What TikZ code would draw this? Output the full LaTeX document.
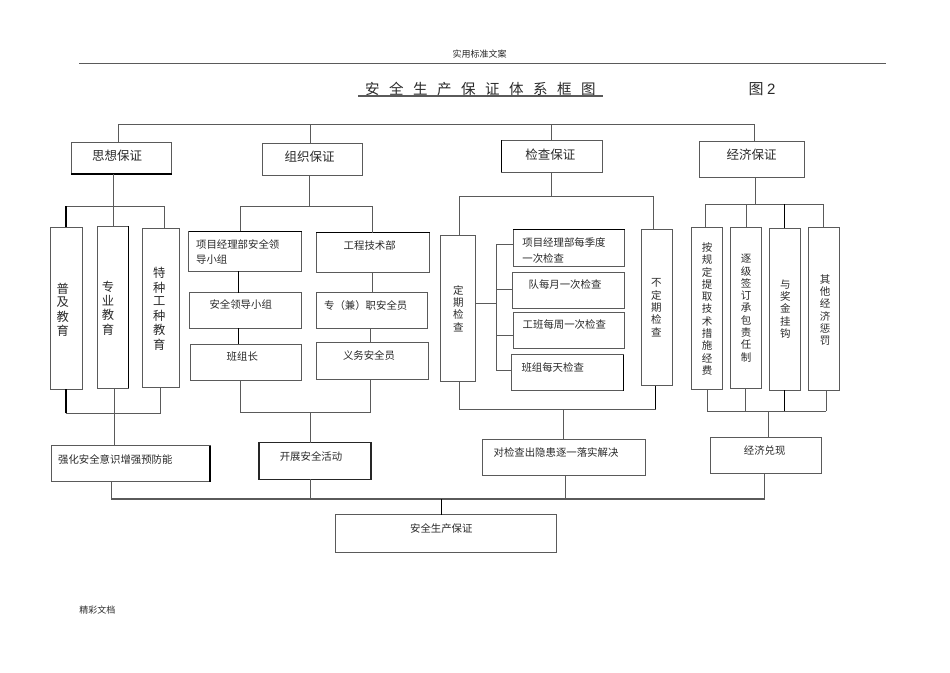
\documentclass[tikz,border=0pt]{standalone}
\usepackage{fontspec}
\setmainfont{Noto Sans CJK SC}
\newfontfamily\latinsans{Liberation Sans}
\definecolor{lin}{HTML}{5A5A5A}
\definecolor{ink}{HTML}{2A2A2A}
\newcommand\fz[2]{\fontsize{#1pt}{#2pt}\selectfont}
% box by corners, with its text centred at (tx,ty)
\newcommand\bx[9]{%
  \pgfmathsetmacro\bw{#4-#2}\pgfmathsetmacro\bh{#5-#3}%
  \pgfmathsetmacro\cx{(#2+#4)/2}\pgfmathsetmacro\cy{(#3+#5)/2}%
  \pgfmathsetmacro\ddx{2*(#6-\cx)}\pgfmathsetmacro\ddy{\cy-#7}%
  \node[box,#1,minimum width=\bw pt,minimum height=\bh pt] (#8) at (\cx,\cy)
    {\raisebox{\ddy pt}[0pt][0pt]{\makebox[0pt]{\kern\ddx pt #9}}};%
}
\newcommand\ctxt[3]{\fz{#1}{#2}\raisebox{-0.41em}{\begin{tabular}[c]{@{}c@{}}#3\end{tabular}}}
\newcommand\ltxt[3]{\fz{#1}{#2}\raisebox{-0.41em}{\begin{tabular}[c]{@{}l@{}}#3\end{tabular}}}
\tikzset{
  box/.style={draw=lin,line width=0.9pt,inner sep=0pt,outer sep=0pt,rectangle,text=ink},
  heavybox/.style={draw=black!85,line width=1.3pt},
  edge/.style={draw=lin,line width=0.9pt},
  heavy/.style={draw=black,line width=1.3pt},
  lbl/.style={inner sep=0pt,outer sep=0pt,text=ink}
}
\begin{document}
\begin{tikzpicture}[x=1pt,y=-1pt]
\useasboundingbox (0,0) rectangle (950,672);
\fill[white] (0,0) rectangle (950,672);

% header and footer
\coordinate (hdL) at (79,63.7); \coordinate (hdR) at (886,63.7);
\draw[edge] (hdL) -- (hdR);
\node[lbl] (hdtext) at (479.7,54.3) {\fz{9}{11}实用标准文案};
\node[lbl] (foot) at (97.3,610.3) {\fz{9}{11}精彩文档};
\node[lbl] (title) at (480.3,88.8) {\fz{14.5}{17}安\kern9.5pt 全\kern9.5pt 生\kern9.5pt 产\kern9.5pt 保\kern9.5pt 证\kern9.5pt 体\kern9.5pt 系\kern9.5pt 框\kern9.5pt 图};
\coordinate (ulL) at (358,96); \coordinate (ulR) at (603,96);
\draw[draw=lin,line width=1.5pt] (ulL) -- (ulR);
\node[lbl] (fig) at (762,88.8) {\fz{15}{17}图 {\latinsans 2}};

% four guarantees
\bx{}{71.3}{142}{171.5}{174}{117}{155}{sx}{\ctxt{12.5}{15}{思想保证}}
\bx{}{262}{143}{362}{175}{309.7}{156.7}{zz}{\ctxt{12.5}{15}{组织保证}}
\bx{}{501.7}{140}{602}{172}{550.3}{154.3}{jc}{\ctxt{12.5}{15}{检查保证}}
\bx{}{699}{141}{804}{177}{751.7}{154.7}{jj}{\ctxt{12.5}{15}{经济保证}}
\draw[heavy] (sx.south west) -- (sx.south east);
\draw[heavy] (jc.north west) -- (jc.south west);

\coordinate (topL) at (118.4,124.3); \coordinate (topM1) at (310.3,124.3);
\coordinate (topM2) at (551,124.3); \coordinate (topR) at (754.3,124.3);
\draw[edge] (topL) -- (topR);
\draw[edge] (topL) -- (topL |- sx.north);
\draw[edge] (topM1) -- (topM1 |- zz.north);
\draw[edge] (topM2) -- (topM2 |- jc.north);
\draw[edge] (topR) -- (topR |- jj.north);

% education column
\bx{}{50.7}{227}{82.3}{389}{62.7}{309.3}{pj}{\ctxt{12.3}{13.4}{普\\及\\教\\育}}
\bx{}{97}{226}{128.5}{388}{108}{307.7}{zy}{\ctxt{12.3}{13.4}{专\\业\\教\\育}}
\bx{}{142.7}{228.7}{179}{387}{159.3}{308.4}{tz}{\ctxt{12.3}{13.7}{特\\种\\工\\种\\教\\育}}
\draw[heavy] (zy.north east) -- (zy.south east);
\bx{}{51.3}{445.7}{210}{481.7}{115.3}{458.7}{qh}{\ctxt{10.4}{13}{强化安全意识增强预防能}}
\draw[heavy] (qh.north east) -- (qh.south east);

\coordinate (b1L) at (66,206); \coordinate (b1M) at (113,206); \coordinate (b1R) at (164.4,206);
\draw[edge] (b1L) -- (b1R);
\draw[edge] (b1M |- sx.south) -- (b1M |- zy.north);
\draw[heavy] (b1L) -- (b1L |- pj.north);
\draw[edge] (b1R) -- (b1R |- tz.north);
\coordinate (b2L) at (66,413.3); \coordinate (b2M) at (114.3,413.3); \coordinate (b2R) at (160.7,413.3);
\draw[edge] (b2L) -- (b2R);
\draw[heavy] (b2L) -- (b2L |- pj.south);
\draw[edge] (b2M |- zy.south) -- (b2M |- qh.north);
\draw[edge] (b2R) -- (b2R |- tz.south);

% organisation column
\bx{}{188.7}{231.3}{301.7}{271.3}{237.7}{250.8}{xm}{\ltxt{10.4}{15}{项目经理部安全领\\导小组}}
\bx{}{316}{232.7}{429.7}{272.7}{369.7}{245.3}{gc}{\ctxt{10.4}{13}{工程技术部}}
\draw[heavy] (xm.north west) -- (xm.north east);
\draw[heavy] (gc.north west) -- (gc.north east);
\bx{}{189.3}{292.7}{301}{328.3}{240.7}{304}{aq}{\ctxt{10.4}{13}{安全领导小组}}
\bx{}{316}{292.7}{427.3}{328.3}{365.7}{305}{zj}{\ctxt{10.4}{13}{专（兼）职安全员}}
\bx{}{190}{344.3}{301.7}{380.3}{242.3}{356.3}{bz}{\ctxt{10.4}{13}{班组长}}
\bx{}{316.3}{342.7}{428.3}{379}{369}{354.7}{yw}{\ctxt{10.4}{13}{义务安全员}}
\bx{heavybox}{259}{442.7}{371}{479.3}{311}{456}{kz}{\ctxt{10.4}{13}{开展安全活动}}

\coordinate (b3L) at (240.3,206); \coordinate (b3M) at (309.3,206); \coordinate (b3R) at (372,206);
\draw[edge] (b3L) -- (b3R);
\draw[edge] (b3M |- zz.south) -- (b3M);
\draw[edge] (b3L) -- (b3L |- xm.north);
\draw[edge] (b3R) -- (b3R |- gc.north);
\coordinate (c1) at (238.3,300); \coordinate (c2) at (372,300); \coordinate (c3) at (370.7,340);
\draw[heavy] (c1 |- xm.south) -- (c1 |- aq.north);
\draw[heavy] (c1 |- aq.south) -- (c1 |- bz.north);
\draw[edge] (c2 |- gc.south) -- (c2 |- zj.north);
\draw[edge] (c3 |- zj.south) -- (c3 |- yw.north);
\coordinate (b4L) at (240.3,412.7); \coordinate (b4M) at (310.3,412.7); \coordinate (b4R) at (370.7,412.7);
\draw[edge] (b4L) -- (b4R);
\draw[edge] (b4L) -- (b4L |- bz.south);
\draw[edge] (b4R) -- (b4R |- yw.south);
\draw[edge] (b4M) -- (b4M |- kz.north);

% inspection column
\bx{}{440.3}{235}{475.7}{381.7}{458.3}{308.3}{dq}{\ctxt{10.5}{11.7}{定\\期\\检\\查}}
\bx{}{641}{229.3}{672.7}{385.7}{656.3}{307.5}{bd}{\ctxt{10.5}{12.1}{不\\定\\期\\检\\查}}
\bx{}{513}{229.7}{624.7}{266.3}{564}{249.5}{mj}{\ltxt{10.4}{15.6}{项目经理部每季度\\一次检查}}
\bx{}{512}{272.3}{624}{308}{565}{284.3}{my}{\ctxt{10.4}{13}{队每月一次检查}}
\bx{}{513}{312.7}{624.7}{348.7}{564.3}{324.3}{mz}{\ctxt{10.4}{13}{工班每周一次检查}}
\bx{}{511.3}{354.7}{623.7}{390.7}{552.7}{367}{mt}{\ctxt{10.4}{13}{班组每天检查}}
\draw[heavy] (mj.north west) -- (mj.north east);
\draw[heavy] (mt.north east) -- (mt.south east);
\bx{}{482.3}{439.3}{645.3}{475.7}{556}{452.3}{dj}{\ctxt{10.4}{13}{对检查出隐患逐一落实解决}}

\coordinate (b5L) at (459.3,196); \coordinate (b5M) at (551,196); \coordinate (b5R) at (653.7,196);
\draw[edge] (b5L) -- (b5R);
\draw[edge] (b5M |- jc.south) -- (b5M);
\draw[edge] (b5L) -- (b5L |- dq.north);
\draw[edge] (b5R) -- (b5R |- bd.north);
\coordinate (sp1) at (496.3,244.7); \coordinate (sp2) at (496.3,289.3);
\coordinate (sp3) at (496.3,303); \coordinate (sp4) at (496.3,335.3); \coordinate (sp5) at (496.3,370.3);
\draw[edge] (sp1) -- (sp5);
\draw[edge] (sp1) -- (sp1 -| mj.west);
\draw[edge] (sp2) -- (sp2 -| my.west);
\draw[edge] (sp3) -- (sp3 -| dq.east);
\draw[edge] (sp4) -- (sp4 -| mz.west);
\draw[edge] (sp5) -- (sp5 -| mt.west);
\coordinate (b6L) at (459,409.3); \coordinate (b6M) at (563.7,409.3); \coordinate (b6R) at (655.7,409.3);
\draw[edge] (b6L) -- (b6R);
\draw[edge] (b6L) -- (b6L |- dq.south);
\draw[heavy] (b6R) -- (b6R |- bd.south);
\draw[edge] (b6M) -- (b6M |- dj.north);

% economic column
\bx{}{691.3}{227}{722.3}{389.3}{707}{308.7}{aj}{\ctxt{10.5}{11.73}{按\\规\\定\\提\\取\\技\\术\\措\\施\\经\\费}}
\bx{}{730.3}{227}{761.7}{388.7}{746}{308}{zd}{\ctxt{10.5}{11.75}{逐\\级\\签\\订\\承\\包\\责\\任\\制}}
\bx{}{769.3}{228.3}{800}{390}{785.3}{308.8}{yg}{\ctxt{10.5}{11.9}{与\\奖\\金\\挂\\钩}}
\bx{}{808.7}{227.7}{839.7}{390}{825}{309.5}{qt}{\ctxt{10.5}{11.8}{其\\他\\经\\济\\惩\\罚}}
\bx{}{710}{437.3}{821.7}{473.3}{764.7}{450.3}{jx}{\ctxt{10.4}{13}{经济兑现}}

\coordinate (b7L) at (705.3,204.3); \coordinate (b7A) at (746,204.3); \coordinate (b7M) at (755.7,204.3);
\coordinate (b7B) at (784.3,204.3); \coordinate (b7R) at (823,204.3);
\draw[edge] (b7L) -- (b7R);
\draw[edge] (b7M |- jj.south) -- (b7M);
\draw[edge] (b7L) -- (b7L |- aj.north);
\draw[edge] (b7A) -- (b7A |- zd.north);
\draw[heavy] (b7B) -- (b7B |- yg.north);
\draw[edge] (b7R) -- (b7R |- qt.north);
\coordinate (b8L) at (707,411); \coordinate (b8A) at (745.7,411); \coordinate (b8M) at (768.7,411);
\coordinate (b8B) at (784.3,411); \coordinate (b8R) at (826.3,411);
\draw[edge] (b8L) -- (b8R);
\draw[edge] (b8L) -- (b8L |- aj.south);
\draw[edge] (b8A) -- (b8A |- zd.south);
\draw[heavy] (b8B) -- (b8B |- yg.south);
\draw[edge] (b8R) -- (b8R |- qt.south);
\draw[edge] (b8M) -- (b8M |- jx.north);

% bottom
\bx{}{335.3}{514.7}{556.3}{552.3}{441.3}{528.3}{sc}{\ctxt{10.4}{13}{安全生产保证}}
\coordinate (b9L) at (111.3,499); \coordinate (b9A) at (310.3,499); \coordinate (b9M) at (441.3,499);
\coordinate (b9B) at (565.3,499); \coordinate (b9R) at (764.5,499);
\draw[draw=lin,line width=1.1pt] (b9L) -- (b9R);
\draw[edge] (b9L |- qh.south) -- (b9L);
\draw[edge] (b9A |- kz.south) -- (b9A);
\draw[edge] (b9B |- dj.south) -- (b9B);
\draw[edge] (b9R |- jx.south) -- (b9R);
\draw[heavy] (b9M) -- (b9M |- sc.north);
\end{tikzpicture}
\end{document}
